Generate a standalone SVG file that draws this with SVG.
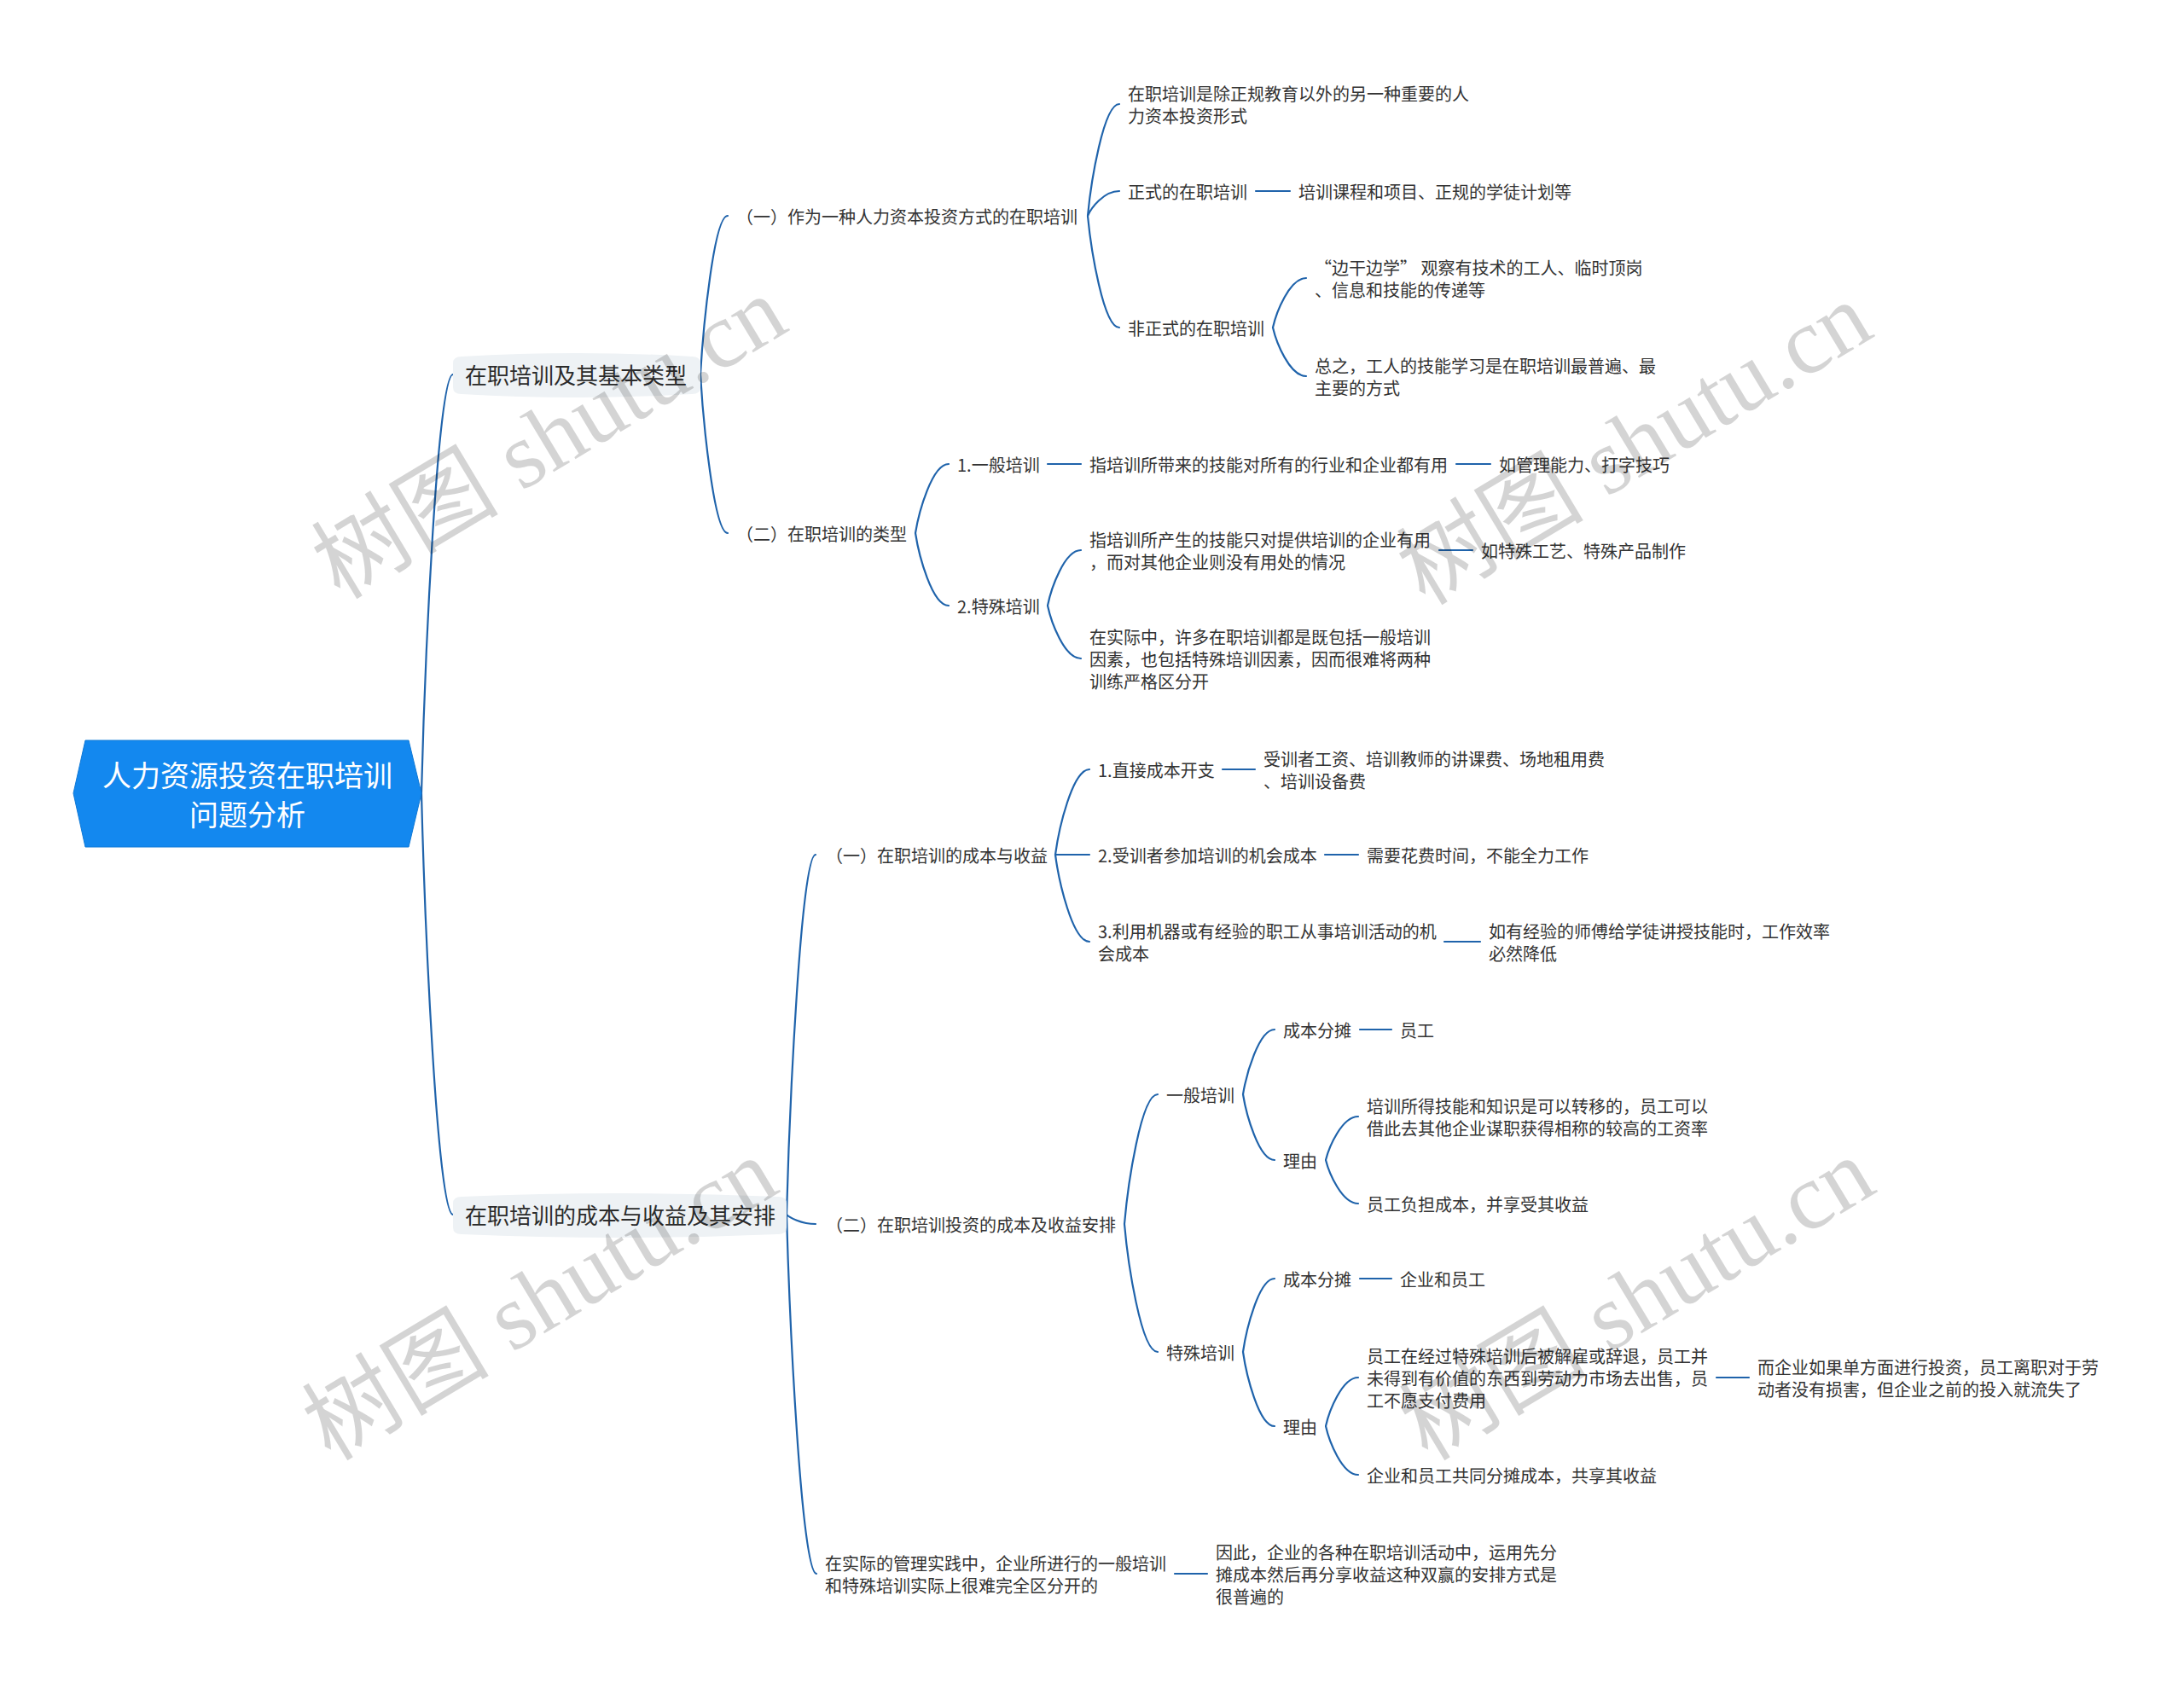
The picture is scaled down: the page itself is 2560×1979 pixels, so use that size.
<svg xmlns="http://www.w3.org/2000/svg" width="2560" height="1979" viewBox="0 0 2560 1979">
<style>
.t{font-family:"Noto Sans CJK SC","Liberation Sans",sans-serif;font-size:20px;fill:#333333}
.t1{font-size:26px;fill:#2b2b2b}
.rt{font-family:"Noto Sans CJK SC","Liberation Sans",sans-serif;font-size:34px;fill:#ffffff;text-anchor:middle}
.c{fill:none;stroke:#1f63ab;stroke-width:2.2;stroke-linecap:round}
.box{fill:#eef2f5}
.wm{font-size:110px;fill:#000000;fill-opacity:0.17;text-anchor:middle}
.wmc{font-family:"Noto Sans CJK SC",sans-serif}
.wml{font-family:"Liberation Serif",serif}
</style>
<rect width="2560" height="1979" fill="#ffffff"/>
<g id="connectors">
<path class="c" d="M494,930 C497.7,783 512.5,439 531,439"/>
<path class="c" d="M494,930 C497.7,1078 512.5,1424 531,1424"/>
<path class="c" d="M821,439 C824.2,383.2 837,253 853,253"/>
<path class="c" d="M821,439 C824.2,494.8 837,625 853,625"/>
<path class="c" d="M1275,253 C1278.7,213.7 1293.5,122 1312,122"/>
<path class="c" d="M1275,253 C1278.7,244.3 1293.5,224 1312,224"/>
<path class="c" d="M1275,253 C1278.7,292.3 1293.5,384 1312,384"/>
<path class="c" d="M1492,384 C1495.9,366.6 1511.5,326 1531,326"/>
<path class="c" d="M1492,384 C1495.9,401.1 1511.5,441 1531,441"/>
<path class="c" d="M1073,625 C1076.9,600.7 1092.5,544 1112,544"/>
<path class="c" d="M1073,625 C1076.9,650.5 1092.5,710 1112,710"/>
<path class="c" d="M1228,710 C1231.9,690.5 1247.5,645 1267,645"/>
<path class="c" d="M1228,710 C1231.9,728.6 1247.5,772 1267,772"/>
<path class="c" d="M922,1424 C925.4,1297.4 939,1002 956,1002"/>
<path class="c" d="M922,1424 C925.4,1427.3 939,1435 956,1435"/>
<path class="c" d="M922,1424 C925.5,1550.3 939.5,1845 957,1845"/>
<path class="c" d="M1237,1002 C1241,972 1257,902 1277,902"/>
<path class="c" d="M1237,1002 L1277,1002"/>
<path class="c" d="M1237,1002 C1241,1032.6 1257,1104 1277,1104"/>
<path class="c" d="M1318,1435 C1321.9,1389.4 1337.5,1283 1357,1283"/>
<path class="c" d="M1318,1435 C1321.9,1480 1337.5,1585 1357,1585"/>
<path class="c" d="M1457,1283 C1460.7,1260.2 1475.5,1207 1494,1207"/>
<path class="c" d="M1457,1283 C1460.7,1306.1 1475.5,1360 1494,1360"/>
<path class="c" d="M1554,1360 C1557.8,1344.7 1573,1309 1592,1309"/>
<path class="c" d="M1554,1360 C1557.8,1375.3 1573,1411 1592,1411"/>
<path class="c" d="M1457,1585 C1460.7,1559.2 1475.5,1499 1494,1499"/>
<path class="c" d="M1457,1585 C1460.7,1611.1 1475.5,1672 1494,1672"/>
<path class="c" d="M1554,1672 C1557.8,1654.9 1573,1615 1592,1615"/>
<path class="c" d="M1554,1672 C1557.8,1689.1 1573,1729 1592,1729"/>
<path class="c" d="M1472,224 L1512,224"/>
<path class="c" d="M1228,544 L1267,544"/>
<path class="c" d="M1707,544 L1747,544"/>
<path class="c" d="M1687,645 L1726,645"/>
<path class="c" d="M1377,1845 L1415,1845"/>
<path class="c" d="M1433,902 L1471,902"/>
<path class="c" d="M1553,1002 L1592,1002"/>
<path class="c" d="M1693,1104 L1735,1104"/>
<path class="c" d="M1594,1207 L1631,1207"/>
<path class="c" d="M1594,1499 L1631,1499"/>
<path class="c" d="M2012,1615 L2050,1615"/>
</g>
<g id="root">
<polygon points="86,930 100,868 479,868 494,930 479,993 100,993" fill="#1388ef" stroke="#0e78d6" stroke-width="1"/>
<text class="rt" x="290" y="922">人力资源投资在职培训</text>
<text class="rt" x="290" y="968">问题分析</text>
</g>
<g id="n-a">
<path class="box" d="M531,426 Q531,418 541,418 Q676,410 811,418 Q821,418 821,426 L821,454 Q821,462 811,462 Q676,470 541,462 Q531,462 531,454 Z"/>
<text class="t t1" x="545" y="450">在职培训及其基本类型</text>
</g>
<g id="n-b">
<path class="box" d="M531,1411 Q531,1403 541,1403 Q726,1395 912,1403 Q922,1403 922,1411 L922,1439 Q922,1447 912,1447 Q726,1455 541,1447 Q531,1447 531,1439 Z"/>
<text class="t t1" x="545" y="1435">在职培训的成本与收益及其安排</text>
</g>
<g id="n-a1"><text class="t" x="863" y="262">（一）作为一种人力资本投资方式的在职培训</text></g>
<g id="n-a1-1"><text class="t" x="1322" y="118">在职培训是除正规教育以外的另一种重要的人</text><text class="t" x="1322" y="144">力资本投资形式</text></g>
<g id="n-a1-2"><text class="t" x="1322" y="233">正式的在职培训</text></g>
<g id="n-a1-2-1"><text class="t" x="1522" y="233">培训课程和项目、正规的学徒计划等</text></g>
<g id="n-a1-3"><text class="t" x="1322" y="393">非正式的在职培训</text></g>
<g id="n-a1-3-1"><text class="t" x="1541" y="322">“边干边学” 观察有技术的工人、临时顶岗</text><text class="t" x="1541" y="348">、信息和技能的传递等</text></g>
<g id="n-a1-3-2"><text class="t" x="1541" y="437">总之，工人的技能学习是在职培训最普遍、最</text><text class="t" x="1541" y="463">主要的方式</text></g>
<g id="n-a2"><text class="t" x="863" y="634">（二）在职培训的类型</text></g>
<g id="n-a2-1"><text class="t" x="1122" y="553">1.一般培训</text></g>
<g id="n-a2-1-1"><text class="t" x="1277" y="553">指培训所带来的技能对所有的行业和企业都有用</text></g>
<g id="n-a2-1-1-1"><text class="t" x="1757" y="553">如管理能力、打字技巧</text></g>
<g id="n-a2-2"><text class="t" x="1122" y="719">2.特殊培训</text></g>
<g id="n-a2-2-1"><text class="t" x="1277" y="641">指培训所产生的技能只对提供培训的企业有用</text><text class="t" x="1277" y="667">，而对其他企业则没有用处的情况</text></g>
<g id="n-a2-2-1-1"><text class="t" x="1736" y="654">如特殊工艺、特殊产品制作</text></g>
<g id="n-a2-2-2"><text class="t" x="1277" y="755">在实际中，许多在职培训都是既包括一般培训</text><text class="t" x="1277" y="781">因素，也包括特殊培训因素，因而很难将两种</text><text class="t" x="1277" y="807">训练严格区分开</text></g>
<g id="n-b1"><text class="t" x="968" y="1011">（一）在职培训的成本与收益</text></g>
<g id="n-b1-1"><text class="t" x="1287" y="911">1.直接成本开支</text></g>
<g id="n-b1-1-1"><text class="t" x="1481" y="898">受训者工资、培训教师的讲课费、场地租用费</text><text class="t" x="1481" y="924">、培训设备费</text></g>
<g id="n-b1-2"><text class="t" x="1287" y="1011">2.受训者参加培训的机会成本</text></g>
<g id="n-b1-2-1"><text class="t" x="1602" y="1011">需要花费时间，不能全力工作</text></g>
<g id="n-b1-3"><text class="t" x="1287" y="1100">3.利用机器或有经验的职工从事培训活动的机</text><text class="t" x="1287" y="1126">会成本</text></g>
<g id="n-b1-3-1"><text class="t" x="1745" y="1100">如有经验的师傅给学徒讲授技能时，工作效率</text><text class="t" x="1745" y="1126">必然降低</text></g>
<g id="n-b2"><text class="t" x="968" y="1444">（二）在职培训投资的成本及收益安排</text></g>
<g id="n-b2-1"><text class="t" x="1367" y="1292">一般培训</text></g>
<g id="n-b2-1-1"><text class="t" x="1504" y="1216">成本分摊</text></g>
<g id="n-b2-1-1-1"><text class="t" x="1641" y="1216">员工</text></g>
<g id="n-b2-1-2"><text class="t" x="1504" y="1369">理由</text></g>
<g id="n-b2-1-2-1"><text class="t" x="1602" y="1305">培训所得技能和知识是可以转移的，员工可以</text><text class="t" x="1602" y="1331">借此去其他企业谋职获得相称的较高的工资率</text></g>
<g id="n-b2-1-2-2"><text class="t" x="1602" y="1420">员工负担成本，并享受其收益</text></g>
<g id="n-b2-2"><text class="t" x="1367" y="1594">特殊培训</text></g>
<g id="n-b2-2-1"><text class="t" x="1504" y="1508">成本分摊</text></g>
<g id="n-b2-2-1-1"><text class="t" x="1641" y="1508">企业和员工</text></g>
<g id="n-b2-2-2"><text class="t" x="1504" y="1681">理由</text></g>
<g id="n-b2-2-2-1"><text class="t" x="1602" y="1598">员工在经过特殊培训后被解雇或辞退，员工并</text><text class="t" x="1602" y="1624">未得到有价值的东西到劳动力市场去出售，员</text><text class="t" x="1602" y="1650">工不愿支付费用</text></g>
<g id="n-b2-2-2-1-1"><text class="t" x="2060" y="1611">而企业如果单方面进行投资，员工离职对于劳</text><text class="t" x="2060" y="1637">动者没有损害，但企业之前的投入就流失了</text></g>
<g id="n-b2-2-2-2"><text class="t" x="1602" y="1738">企业和员工共同分摊成本，共享其收益</text></g>
<g id="n-b3"><text class="t" x="967" y="1841">在实际的管理实践中，企业所进行的一般培训</text><text class="t" x="967" y="1867">和特殊培训实际上很难完全区分开的</text></g>
<g id="n-b3-1"><text class="t" x="1425" y="1828">因此，企业的各种在职培训活动中，运用先分</text><text class="t" x="1425" y="1854">摊成本然后再分享收益这种双赢的安排方式是</text><text class="t" x="1425" y="1880">很普遍的</text></g>
<g id="watermarks">
<text class="wm" transform="translate(663,545) rotate(-31)"><tspan class="wmc">树图</tspan><tspan class="wml"> shutu.cn</tspan></text>
<text class="wm" transform="translate(1935,552) rotate(-31)"><tspan class="wmc">树图</tspan><tspan class="wml"> shutu.cn</tspan></text>
<text class="wm" transform="translate(652,1555) rotate(-31)"><tspan class="wmc">树图</tspan><tspan class="wml"> shutu.cn</tspan></text>
<text class="wm" transform="translate(1938,1555) rotate(-31)"><tspan class="wmc">树图</tspan><tspan class="wml"> shutu.cn</tspan></text>
</g>
</svg>
